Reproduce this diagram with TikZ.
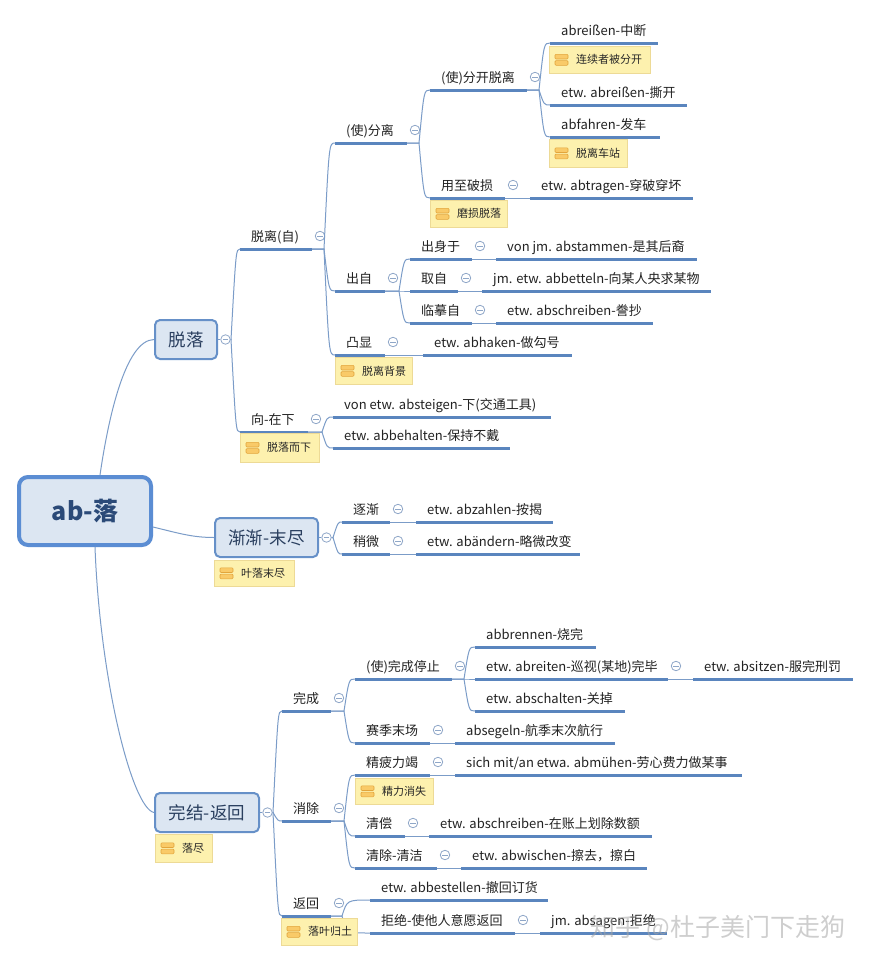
\documentclass[tikz,border=0pt]{standalone}
\usepackage{fontspec}
\setmainfont{Noto Sans CJK SC}
\usetikzlibrary{calc}
\definecolor{ul}{HTML}{5A85BE}
\definecolor{cn}{HTML}{7B9CC8}
\definecolor{boxfill}{HTML}{DCE6F2}
\definecolor{boxdraw}{HTML}{6690C8}
\definecolor{rootdraw}{HTML}{5B8DD3}
\definecolor{boxtext}{HTML}{2A3F5F}
\definecolor{roottext}{HTML}{2B4A78}
\definecolor{notefill}{HTML}{FDF1AE}
\definecolor{notedraw}{HTML}{EDDA96}
\definecolor{iconfill}{HTML}{F9CA68}
\definecolor{icondraw}{HTML}{E2A53C}
\definecolor{ccol}{HTML}{8FA7C8}
\definecolor{tptxt}{HTML}{222222}
\newcommand\tpfont{\fontsize{13}{15}\selectfont}
\tikzset{
  uline/.style={draw=ul, line width=3pt, line cap=butt},
  conn/.style={draw=cn, line width=1pt},
  tptext/.style={anchor=base west, inner sep=0pt, font=\tpfont, text=tptxt},
  rootbox/.style={draw=rootdraw, line width=4pt, fill=boxfill, rounded corners=9pt,
     minimum width=132pt, minimum height=68pt, font=\fontsize{25}{28}\selectfont\bfseries, text=roottext},
  lonebox/.style={draw=boxdraw, line width=2pt, fill=boxfill, rounded corners=5pt,
     minimum height=39pt, font=\fontsize{17.5}{20}\selectfont, text=boxtext},
  collapse/.style={circle, draw=ccol, fill=white, line width=0.8pt, minimum size=9.5pt, inner sep=0pt,
     path picture={\draw[ccol, line width=0.8pt] ([xshift=-2.6pt]path picture bounding box.center) -- ([xshift=2.6pt]path picture bounding box.center);}},
  notebox/.style={draw=notedraw, line width=0.6pt, fill=notefill, inner sep=0pt},
  notetext/.style={inner sep=0pt, font=\fontsize{11}{13}\selectfont, text=black!85},
  iconbar/.style={draw=icondraw, fill=iconfill, line width=0.6pt, rounded corners=1pt},
  wm/.style={font=\fontsize{25}{28}\selectfont, text=gray!70, opacity=0.55, inner sep=0pt}
}
% topic: name, x1, x2, y(underline), text
\newcommand\mtopic[5]{%
  \coordinate (#1s) at (#2,#4);
  \coordinate (#1e) at (#3,#4);
  \draw[uline] (#1s) -- (#1e);
  \node[tptext] (#1) at (#2+11,#4-7.5) {#5};
}
\newcommand\mtopicc[5]{%
  \mtopic{#1}{#2}{#3}{#4}{#5}
  \node[collapse] (#1c) at (#3+8,#4-13) {};
}
% connector: from, to, spine x
\newcommand\mconn[3]{\draw[conn] let \p1=(#1), \p2=(#2) in (\p1) -- (#3pt-5pt,\y1) .. controls (#3pt,\y2) .. (\p2);}
% note: name, x1, y1, x2, y2, text
\newcommand\mnote[6]{%
  \node[notebox, anchor=north west, minimum width=#4-#2, minimum height=#5-#3] (#1) at (#2,#3) {};
  \draw[iconbar] ($(#1.west)+(6,-5.5)$) rectangle ($(#1.west)+(19,-0.8)$);
  \draw[iconbar] ($(#1.west)+(6,0.8)$) rectangle ($(#1.west)+(19,5.5)$);
  \node[notetext, anchor=west] (#1t) at ($(#1.west)+(27,0)$) {#6};
}
\begin{document}
\begin{tikzpicture}[x=1pt,y=-1pt]
\fill[white] (0,0) rectangle (871,962);
\useasboundingbox (0,0) rectangle (871,962);

% main boxes
\node[rootbox] (root) at (85,511) {ab-落};
\node[lonebox, minimum width=62pt] (tl) at (186,339.5) {脱落};
\node[lonebox, minimum width=103pt] (jj) at (266.5,537.5) {渐渐-末尽};
\node[lonebox, minimum width=104pt] (wj) at (207,812.5) {完结-返回};

% topics: 脱落
\mtopicc{A1}{240}{312}{249}{脱离(自)}
\mtopicc{A2}{240}{308}{432}{向-在下}
\mtopicc{B1}{335}{407}{143}{(使)分离}
\mtopicc{B2}{335}{385}{291}{出自}
\mtopicc{B3}{335}{385}{355}{凸显}
\mtopicc{C1}{430}{527}{90}{(使)分开脱离}
\mtopicc{C2}{430}{505}{198}{用至破损}
\mtopic{D1}{550}{658}{43}{abreißen-中断}
\mtopic{D2}{550}{687}{105}{etw. abreißen-撕开}
\mtopic{D3}{550}{660}{137}{abfahren-发车}
\mtopic{E1}{530}{693}{198}{etw. abtragen-穿破穿坏}
\mtopicc{F1}{410}{472}{259}{出身于}
\mtopicc{F2}{410}{458}{291}{取自}
\mtopicc{F3}{410}{472}{323}{临摹自}
\mtopic{G1}{496}{697}{259}{von jm. abstammen-是其后裔}
\mtopic{G2}{482}{711}{291}{jm. etw. abbetteln-向某人央求某物}
\mtopic{G3}{496}{653}{323}{etw. abschreiben-誊抄}
\mtopic{G4}{423}{572}{355}{etw. abhaken-做勾号}
\mtopic{H1}{333}{551}{417}{von etw. absteigen-下(交通工具)}
\mtopic{H2}{333}{510}{448}{etw. abbehalten-保持不戴}
% topics: 渐渐-末尽
\mtopicc{I1}{342}{390}{522}{逐渐}
\mtopicc{I2}{342}{390}{554}{稍微}
\mtopic{J1}{416}{553}{522}{etw. abzahlen-按揭}
\mtopic{J2}{416}{580}{554}{etw. abändern-略微改变}
% topics: 完结-返回
\mtopicc{K1}{282}{331}{711}{完成}
\mtopicc{K2}{282}{331}{821}{消除}
\mtopicc{K3}{282}{331}{916}{返回}
\mtopicc{L1}{355}{452}{679}{(使)完成停止}
\mtopicc{L2}{355}{430}{743}{赛季末场}
\mtopic{M1}{475}{596}{647}{abbrennen-烧完}
\mtopicc{M2}{475}{668}{679}{etw. abreiten-巡视(某地)完毕}
\mtopic{M3}{475}{625}{711}{etw. abschalten-关掉}
\mtopic{N1}{693}{853}{679}{etw. absitzen-服完刑罚}
\mtopic{O1}{455}{615}{743}{absegeln-航季末次航行}
\mtopicc{P1}{355}{430}{775}{精疲力竭}
\mtopicc{P2}{355}{405}{836}{清偿}
\mtopicc{P3}{355}{437}{868}{清除-清洁}
\mtopic{Q1}{455}{742}{775}{sich mit/an etwa. abmühen-劳心费力做某事}
\mtopic{Q2}{429}{652}{836}{etw. abschreiben-在账上划除数额}
\mtopic{Q3}{461}{647}{868}{etw. abwischen-擦去，擦白}
\mtopic{R1}{370}{548}{900}{etw. abbestellen-撤回订货}
\mtopicc{R2}{370}{515}{933}{拒绝-使他人意愿返回}
\mtopic{S1}{540}{667}{933}{jm. absagen-拒绝}

% box collapse circles
\node[collapse] (ctl) at ($(tl.east)+(7.5,0)$) {};
\node[collapse] (cjj) at ($(jj.east)+(7.5,0)$) {};
\node[collapse] (cwj) at ($(wj.east)+(7.5,0)$) {};

% root connectors
\draw[conn] ($(root.north)+(15,0)$) .. controls (108,420) and (125,340) .. (tl.west);
\draw[conn] ($(root.east)+(0,16)$) .. controls (178,533) and (192,537.5) .. (jj.west);
\draw[conn] ($(root.south)+(10,0)$) .. controls (100,680) and (132,808) .. (wj.west);
\draw[conn] (tl.east) -- (ctl.west);
\draw[conn] (jj.east) -- (cjj.west);
\draw[conn] (wj.east) -- (cwj.west);

% 脱落 connectors
\mconn{ctl.east}{A1s}{236}
\mconn{ctl.east}{A2s}{236}
\mconn{A1e}{B1s}{329}
\mconn{A1e}{B2s}{329}
\mconn{A1e}{B3s}{329}
\mconn{A2e}{H1s}{327}
\mconn{A2e}{H2s}{327}
\mconn{B1e}{C1s}{424}
\mconn{B1e}{C2s}{424}
\mconn{C1e}{D1s}{544}
\mconn{C1e}{D2s}{544}
\mconn{C1e}{D3s}{544}
\draw[conn] (C2e) -- (E1s);
\mconn{B2e}{F1s}{404}
\mconn{B2e}{F2s}{404}
\mconn{B2e}{F3s}{404}
\draw[conn] (B3e) -- (G4s);
\draw[conn] (F1e) -- (G1s);
\draw[conn] (F2e) -- (G2s);
\draw[conn] (F3e) -- (G3s);
% 渐渐 connectors
\mconn{cjj.east}{I1s}{338}
\mconn{cjj.east}{I2s}{338}
\draw[conn] (I1e) -- (J1s);
\draw[conn] (I2e) -- (J2s);
% 完结 connectors
\mconn{cwj.east}{K1s}{278}
\mconn{cwj.east}{K2s}{278}
\mconn{cwj.east}{K3s}{278}
\mconn{K1e}{L1s}{349}
\mconn{K1e}{L2s}{349}
\mconn{L1e}{M1s}{469}
\mconn{L1e}{M2s}{469}
\mconn{L1e}{M3s}{469}
\draw[conn] (M2e) -- (N1s);
\draw[conn] (L2e) -- (O1s);
\mconn{K2e}{P1s}{349}
\mconn{K2e}{P2s}{349}
\mconn{K2e}{P3s}{349}
\draw[conn] (P1e) -- (Q1s);
\draw[conn] (P2e) -- (Q2s);
\draw[conn] (P3e) -- (Q3s);
\mconn{K3e}{R1s}{347}
\mconn{K3e}{R2s}{347}
\draw[conn] (R2e) -- (S1s);

% notes
\mnote{na}{549}{46}{650}{73}{连续者被分开}
\mnote{nb}{549}{139}{627}{167}{脱离车站}
\mnote{nc}{430}{200}{507}{227}{磨损脱落}
\mnote{nd}{335}{357}{412}{384}{脱离背景}
\mnote{ne}{240}{433}{319}{462}{脱落而下}
\mnote{nf}{214}{560}{294}{586}{叶落末尽}
\mnote{ng}{355}{778}{433}{804}{精力消失}
\mnote{nh}{155}{834}{212}{862}{落尽}
\mnote{ni}{281}{918}{357}{945}{落叶归土}

% watermark
\node[wm] (wm) at (718,928) {知乎 @杜子美门下走狗};
\end{tikzpicture}
\end{document}
